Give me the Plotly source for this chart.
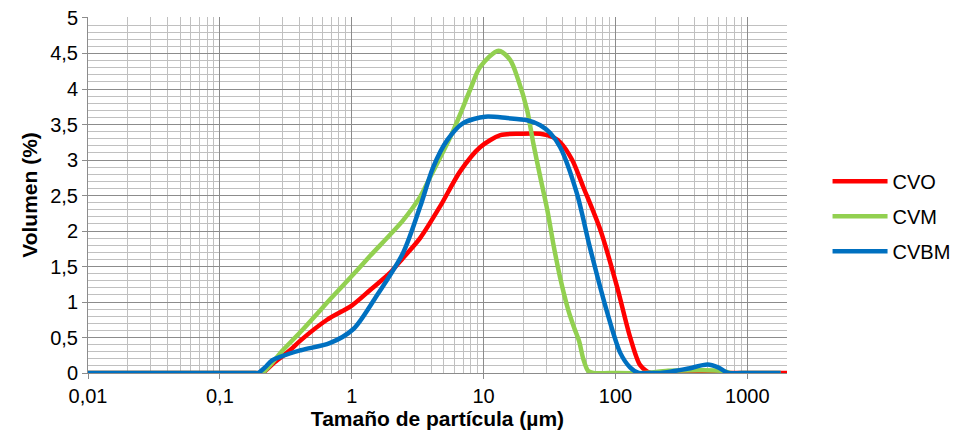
import plotly.graph_objects as go

# Particle size (µm) and volume (%) for each sample
cvo_x = [0.01, 0.03, 0.08, 0.15, 0.19, 0.21, 0.26, 0.34, 0.41, 0.65, 1.0, 1.38, 1.95, 2.45, 3.3, 4.69, 6.64, 9.41, 13.4, 19, 26.9, 33.7, 38.1, 47, 57, 77, 103, 129, 154, 184, 250, 500, 1000, 2000]
cvo_y = [0, 0, 0, 0, 0, 0, 0.15, 0.32, 0.46, 0.75, 0.95, 1.17, 1.41, 1.62, 1.9, 2.35, 2.84, 3.18, 3.35, 3.37, 3.37, 3.32, 3.25, 3.0, 2.62, 2.01, 1.21, 0.51, 0.11, 0, 0, 0, 0, 0]

cvm_x = [0.01, 0.03, 0.08, 0.15, 0.19, 0.21, 0.30, 0.41, 0.72, 1.03, 1.38, 2.45, 3.3, 3.94, 5.78, 7.91, 9.41, 12.97, 15.9, 18.3, 21.4, 23.8, 26.9, 30.4, 33.7, 38, 44, 49, 53, 57, 62, 68, 90, 160, 250, 450, 650, 750, 1000, 1790]
cvm_y = [0, 0, 0, 0, 0, 0, 0.32, 0.58, 1.08, 1.39, 1.65, 2.15, 2.48, 2.76, 3.38, 3.99, 4.31, 4.54, 4.41, 4.13, 3.7, 3.24, 2.76, 2.3, 1.83, 1.35, 0.88, 0.62, 0.45, 0.2, 0.03, 0, 0, 0, 0.03, 0.04, 0.03, 0, 0, 0]

cvbm_x = [0.01, 0.03, 0.08, 0.14, 0.18, 0.195, 0.22, 0.25, 0.41, 0.68, 1.03, 1.5, 2.45, 3.3, 4.15, 5.3, 7.0, 10.3, 15.1, 21.4, 26.9, 32, 38.1, 51, 64, 87, 109, 129, 150, 180, 220, 350, 500, 600, 720, 900, 1300, 1790]
cvbm_y = [0, 0, 0, 0, 0, 0, 0.08, 0.18, 0.32, 0.42, 0.62, 1.05, 1.69, 2.34, 2.9, 3.28, 3.52, 3.61, 3.59, 3.56, 3.49, 3.38, 3.18, 2.53, 1.77, 0.84, 0.28, 0.08, 0, 0, 0, 0.06, 0.12, 0.08, 0, 0, 0, 0]

series_names = ["CVO", "CVM", "CVBM"]
series_colors = ["#FF0000", "#92D050", "#0070C0"]

x_tickvals = [0.01, 0.1, 1, 10, 100, 1000]
x_ticktext = ["0,01", "0,1", "1", "10", "100", "1000"]

FONT = "Liberation Sans, Arial, sans-serif"

fig = go.Figure()
for i, (xs, ys) in enumerate([(cvo_x, cvo_y), (cvm_x, cvm_y), (cvbm_x, cvbm_y)]):
    fig.add_trace(go.Scatter(
        x=xs, y=ys, mode="lines", name=series_names[i],
        legendgroup=series_names[i],
        line=dict(color=series_colors[i], width=4.5, shape="spline", smoothing=0.8),
    ))

# the page body adds an 8px offset, so the figure is sized to fit the window
fig.update_layout(
    width=951, height=424,
    margin=dict(l=80, r=172, t=9, b=59, autoexpand=False),
    paper_bgcolor="white", plot_bgcolor="white",
    separators=",.",
    font=dict(family=FONT, size=20, color="#000000"),
    showlegend=True,
    legend=dict(x=1.058, y=0.44, xanchor="left", yanchor="middle",
                font=dict(size=20), tracegroupgap=6, itemwidth=55,
                bgcolor="rgba(0,0,0,0)"),
    xaxis=dict(
        type="log", range=[-2, 3.301], automargin=False,
        tickvals=x_tickvals, ticktext=x_ticktext,
        showgrid=True, gridcolor="#8C8C8C", gridwidth=1,
        minor=dict(dtick="D1", showgrid=True, gridcolor="#C0C0C0", gridwidth=1, ticks=""),
        ticks="outside", ticklen=5, tickcolor="#8C8C8C",
        showline=True, linecolor="#8C8C8C", linewidth=1,
        zeroline=False, ticklabeloverflow="allow",
        title=dict(text="<b>Tamaño de partícula (µm)</b>", font=dict(size=21), standoff=2),
        tickfont=dict(size=20),
    ),
    yaxis=dict(
        range=[0, 5.014], dtick=0.5, tick0=0, automargin=False,
        showgrid=True, gridcolor="#8C8C8C", gridwidth=1,
        minor=dict(dtick=0.1, showgrid=True, gridcolor="#C0C0C0", gridwidth=1, ticks=""),
        ticks="outside", ticklen=5, tickcolor="#8C8C8C",
        showline=True, linecolor="#8C8C8C", linewidth=1,
        zeroline=False, ticklabeloverflow="allow",
        title=dict(text="<b>Volumen (%)</b>", font=dict(size=21), standoff=6),
        tickfont=dict(size=20),
    ),
)

fig.write_html("out.html")
